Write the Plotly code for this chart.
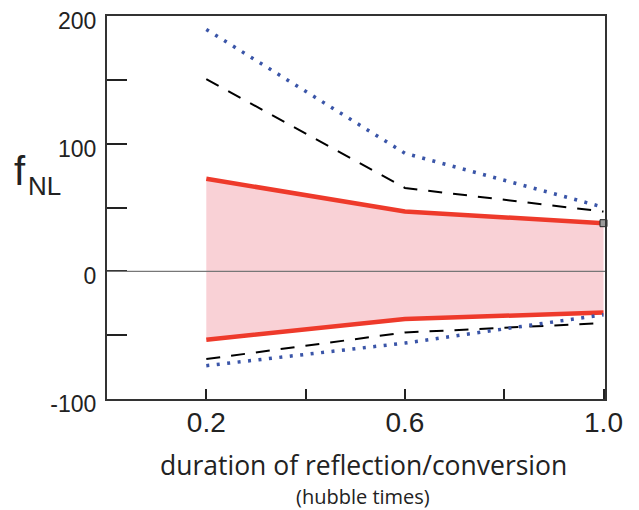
import plotly.graph_objects as go

x = [0.2, 0.6, 1.0]
red_upper = [72.5, 46.8, 37.7]
red_lower = [-53.6, -37.4, -32.2]
dash_upper = [150.6, 65.3, 46.8]
dash_lower = [-68.7, -47.9, -40.5]
dot_upper = [189.5, 92.5, 50.2]
dot_lower = [-73.9, -56.2, -34.0]

xtick_vals = [0.2, 0.4, 0.6, 0.8, 1.0]
xtick_text = ["0.2", "", "0.6", "", "1.0"]
ytick_vals = [-100, -50, 0, 50, 100, 150, 200]
ytick_text = ["-100", "", "0", "", "100", "", "200"]

RED = "#EE3A2B"
PINK = "#F9D1D6"
BLUE = "#3A55A8"

fig = go.Figure()
# shaded band
fig.add_trace(go.Scatter(x=x, y=red_lower, mode="lines", line=dict(width=0, color=PINK),
                         showlegend=False, hoverinfo="skip"))
fig.add_trace(go.Scatter(x=x, y=red_upper, mode="lines", line=dict(width=0, color=PINK),
                         fill="tonexty", fillcolor=PINK, showlegend=False, hoverinfo="skip"))
# zero line
fig.add_hline(y=0, line=dict(color="#777777", width=1.2))
# red solid
fig.add_trace(go.Scatter(x=x, y=red_upper, mode="lines", line=dict(color=RED, width=4.5), showlegend=False))
fig.add_trace(go.Scatter(x=x, y=red_lower, mode="lines", line=dict(color=RED, width=4.5), showlegend=False))
# black dashed
fig.add_trace(go.Scatter(x=x, y=dash_upper, mode="lines", line=dict(color="black", width=2, dash="14px,11px"), showlegend=False))
fig.add_trace(go.Scatter(x=x, y=dash_lower, mode="lines", line=dict(color="black", width=2, dash="14px,11px"), showlegend=False))
# blue dotted
fig.add_trace(go.Scatter(x=x, y=dot_upper, mode="lines", line=dict(color=BLUE, width=3.5, dash="3px,7.5px"), showlegend=False))
fig.add_trace(go.Scatter(x=x, y=dot_lower, mode="lines", line=dict(color=BLUE, width=3.5, dash="3px,7.5px"), showlegend=False))
# small square marker
fig.add_trace(go.Scatter(x=[x[-1]], y=[red_upper[-1]], mode="markers",
                         marker=dict(symbol="square", size=7, color="#9a9a9a", line=dict(color="#222", width=1)),
                         showlegend=False, cliponaxis=False))

# page body has an 8px default margin, so the figure is sized/offset to fit the 639x510 window
fig.update_layout(
    width=631, height=502,
    margin=dict(l=99, r=34, t=8, b=111),
    plot_bgcolor="white", paper_bgcolor="white",
    font=dict(family="Liberation Sans, Arial, sans-serif", color="#222"),
    xaxis=dict(range=[0, 1.003], tickvals=xtick_vals, ticktext=xtick_text,
               ticks="inside", ticklen=10, tickwidth=1.5, tickcolor="#222",
               showline=True, mirror=True, linecolor="#333", linewidth=2,
               showgrid=False, zeroline=False, ticklabelstandoff=-3, automargin=False,
               tickfont=dict(size=28, color="#222")),
    yaxis=dict(range=[-100, 200], tickvals=ytick_vals, ticktext=ytick_text,
               ticks="inside", ticklen=20, tickwidth=1.5, tickcolor="#222",
               showline=True, mirror=True, linecolor="#333", linewidth=2,
               showgrid=False, zeroline=False, ticklabelstandoff=4, automargin=False,
               ticklabeloverflow="allow", ticklabelshift=5,
               tickfont=dict(size=23, color="#222")),
    annotations=[
        dict(text="f", xref="paper", yref="paper", x=-0.175, y=0.595, xanchor="center", yanchor="middle",
             showarrow=False, font=dict(size=40, family="Liberation Sans, Arial", color="#222")),
        dict(text="NL", xref="paper", yref="paper", x=-0.1265, y=0.555, xanchor="center", yanchor="middle",
             showarrow=False, font=dict(size=26, family="Liberation Sans, Arial", color="#222")),
        dict(text="duration of reflection/conversion", xref="paper", yref="paper", x=0.515, y=-0.172,
             xanchor="center", yanchor="middle", showarrow=False,
             font=dict(size=26.5, family="Open Sans, sans-serif", color="#222")),
        dict(text="(hubble times)", xref="paper", yref="paper", x=0.515, y=-0.255,
             xanchor="center", yanchor="middle", showarrow=False,
             font=dict(size=20, family="Open Sans, sans-serif", color="#222")),
    ],
)

fig.write_html("out.html")
